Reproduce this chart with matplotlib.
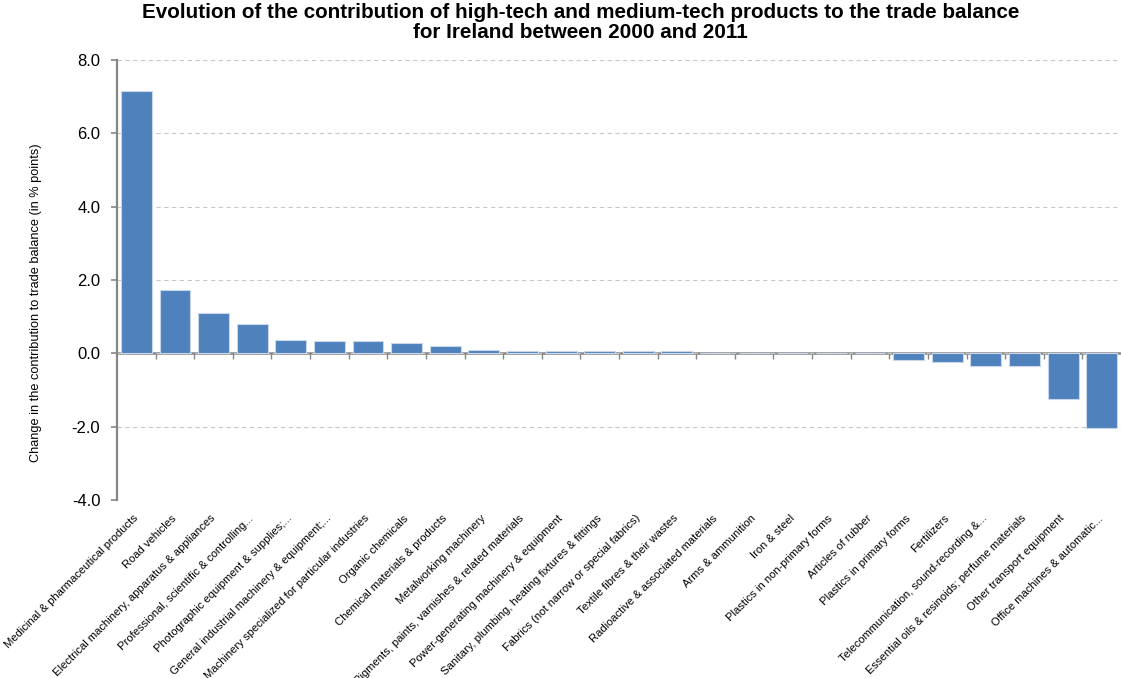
import matplotlib
matplotlib.use('Agg')
import matplotlib.pyplot as plt
import numpy as np

plt.rcParams['font.family'] = ['Liberation Sans', 'DejaVu Sans']

## donnees

categories = [
    "Medicinal & pharmaceutical products",
    "Road vehicles",
    "Electrical machinery, apparatus & appliances",
    "Professional, scientific & controlling...",
    "Photographic equipment & supplies;...",
    "General industrial machinery & equipment;...",
    "Machinery specialized for particular industries",
    "Organic chemicals",
    "Chemical materials & products",
    "Metalworking machinery",
    "Pigments, paints, varnishes & related materials",
    "Power-generating machinery & equipment",
    "Sanitary, plumbing, heating fixtures & fittings",
    "Fabrics (not narrow or special fabrics)",
    "Textile fibres & their wastes",
    "Radioactive & associated materials",
    "Arms & ammunition",
    "Iron & steel",
    "Plastics in non-primary forms",
    "Articles of rubber",
    "Plastics in primary forms",
    "Fertilizers",
    "Telecommunication, sound-recording &...",
    "Essential oils & resinoids; perfume materials",
    "Other transport equipment",
    "Office machines & automatic...",
]
valeurs = [7.15, 1.72, 1.10, 0.80, 0.37, 0.35, 0.34, 0.27, 0.20, 0.09,
           0.06, 0.06, 0.06, 0.06, 0.06, 0.0, 0.0, 0.0, 0.0, 0.0,
           -0.19, -0.23, -0.34, -0.34, -1.25, -2.03]
yticks = [-4.0, -2.0, 0.0, 2.0, 4.0, 6.0, 8.0]

titre = ("Evolution of the contribution of high-tech and medium-tech products to the trade balance\n"
         "for Ireland between 2000 and 2011")
ylabel = "Change in the contribution to trade balance (in % points)"

GRIS = '#868686'

## figure

fig = plt.figure(figsize=(11.21, 6.78), dpi=100)
ax = fig.add_axes([0.1044, 0.2625, 0.8956, 0.649])

x = np.arange(len(categories))
ax.bar(x, valeurs, width=0.8, color='#4f81bd', edgecolor='#c9d7ea', linewidth=0.8, zorder=3)

ax.set_xlim(-0.5, len(categories) - 0.5)
ax.set_ylim(yticks[0], yticks[-1])
ax.set_yticks(yticks)
ax.set_yticklabels(["%.1f" % v for v in yticks], fontsize=12)
ax.yaxis.grid(True, color='#c8c8c8', linestyle=(0, (4, 3)), linewidth=0.8, zorder=0)

for s in ['top', 'right', 'bottom']:
    ax.spines[s].set_visible(False)
ax.spines['left'].set_color(GRIS)
ax.spines['left'].set_linewidth(1.6)
ax.tick_params(axis='y', colors=GRIS, length=4, width=1.2, labelcolor='black', pad=8)

ax.set_xticks(x)
ax.set_xticklabels(categories, rotation=45, ha='right', va='center',
                   rotation_mode='anchor', fontsize=8.1)
ax.tick_params(axis='x', length=0, pad=12)

# ligne du zero avec graduations entre categories
pos0 = (0 - yticks[0]) / (yticks[-1] - yticks[0])
sec = ax.secondary_xaxis(pos0)
sec.set_xticks(np.arange(len(categories) - 1) + 0.5)
sec.set_xticklabels([])
sec.tick_params(axis='x', colors=GRIS, length=4, width=1.0, direction='out')
sec.spines['bottom'].set_color(GRIS)
sec.spines['bottom'].set_linewidth(1.8)
sec.spines['top'].set_visible(False)

# titre de l'axe y (centre un peu plus bas, comme dans Excel)
fig.text(36 / 1121, 1 - 303 / 678, ylabel, rotation=90, ha='center', va='center',
         fontsize=9.2)

fig.text(0.518, 0.995, titre, ha='center', va='top', fontsize=14.9,
         fontweight='bold', linespacing=1.05)

fig.savefig('out.png', dpi=100)
